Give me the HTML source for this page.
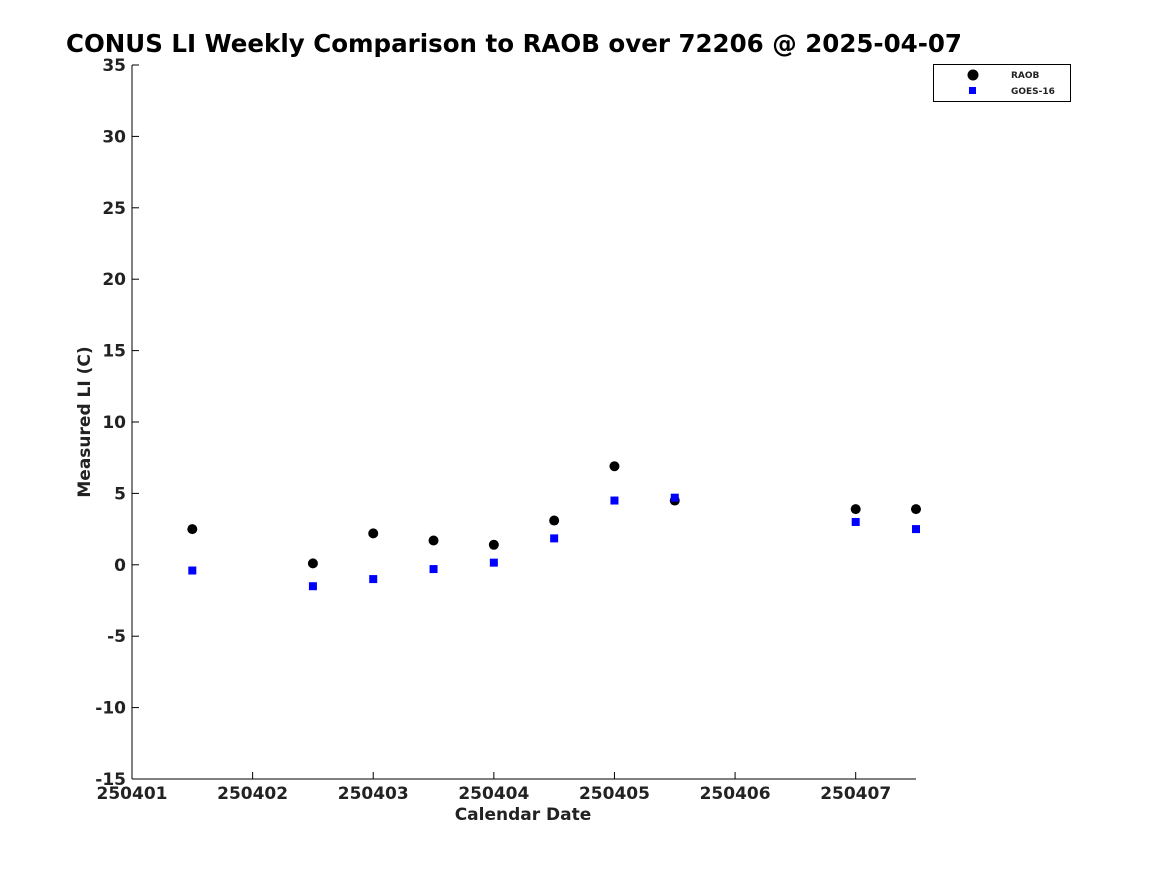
<!DOCTYPE html>
<html><head><meta charset="utf-8"><style>
body{margin:0;background:#fff;}
svg text{font-family:"DejaVu Sans","Liberation Sans",sans-serif;font-weight:bold;fill:#222;}
</style></head><body>
<svg width="1167" height="875" id="chart">
<text x="66" y="52" font-size="24.5" style="fill:#000">CONUS LI Weekly Comparison to RAOB over 72206 @ 2025-04-07</text>
<g id="axes"></g>
<g id="marks"></g>
<text x="523" y="820" font-size="17" text-anchor="middle">Calendar Date</text>
<text transform="translate(90,422) rotate(-90)" font-size="17" text-anchor="middle">Measured LI (C)</text>
<g>
<rect x="933.5" y="64.5" width="137" height="37" fill="#fff" stroke="#000"/>
<circle cx="973" cy="75" r="5.5" fill="#000"/>
<text x="1011" y="78" font-size="9">RAOB</text>
<rect x="969" y="87" width="7" height="7" fill="#0000ff"/>
<text x="1011" y="94" font-size="9">GOES-16</text>
</g>
</svg>
<script>
const xTicks=[1,2,3,4,5,6,7];
const xTickLabels=["250401","250402","250403","250404","250405","250406","250407"];
const yTicks=[-15,-10,-5,0,5,10,15,20,25,30,35];
const dates=[1.5,2.5,3,3.5,4,4.5,5,5.5,7,7.5];
const raob=[2.5,0.1,2.2,1.7,1.4,3.1,6.9,4.5,3.9,3.9];
const goes=[-0.4,-1.5,-1.0,-0.3,0.15,1.85,4.5,4.7,3.0,2.5];
const NS="http://www.w3.org/2000/svg";
const X0=132,X1=916,Y0=779,Y1=65;
const xs=v=>X0+(v-1)/(7.5-1)*(X1-X0);
const ys=v=>Y0-(v+15)/50*(Y0-Y1);
function mk(t,a,p){const e=document.createElementNS(NS,t);for(const k in a)e.setAttribute(k,a[k]);p.appendChild(e);return e;}
const ax=document.getElementById('axes'),mks=document.getElementById('marks');
const yl=mk('line',{x1:X0,y1:Y0,x2:X0,y2:Y1,stroke:'#000'},ax);


const xl=mk('line',{x1:X0,y1:Y0,x2:X1,y2:Y0,stroke:'#000'},ax);


yTicks.forEach(v=>{
 mk('line',{x1:X0,y1:ys(v),x2:X0+7,y2:ys(v),stroke:'#000'},ax);
 const t=mk('text',{x:X0-6,y:ys(v)+6,'font-size':17,'text-anchor':'end'},ax);
 t.textContent=v;
 
 
});
xTicks.forEach((v,i)=>{
 mk('line',{x1:xs(v),y1:Y0,x2:xs(v),y2:Y0-7,stroke:'#000'},ax);
 const t=mk('text',{x:xs(v),y:Y0+20,'font-size':17,'text-anchor':'middle'},ax);
 t.textContent=xTickLabels[i];
 
 
});
dates.forEach((d,i)=>{
 const c=mk('circle',{cx:xs(d),cy:ys(raob[i]),r:5,fill:'#000'},mks);
 
 
 const r=mk('rect',{x:xs(d)-4,y:ys(goes[i])-4,width:8,height:8,fill:'#0000ff'},mks);
 
 
});
</script>
</body></html>
